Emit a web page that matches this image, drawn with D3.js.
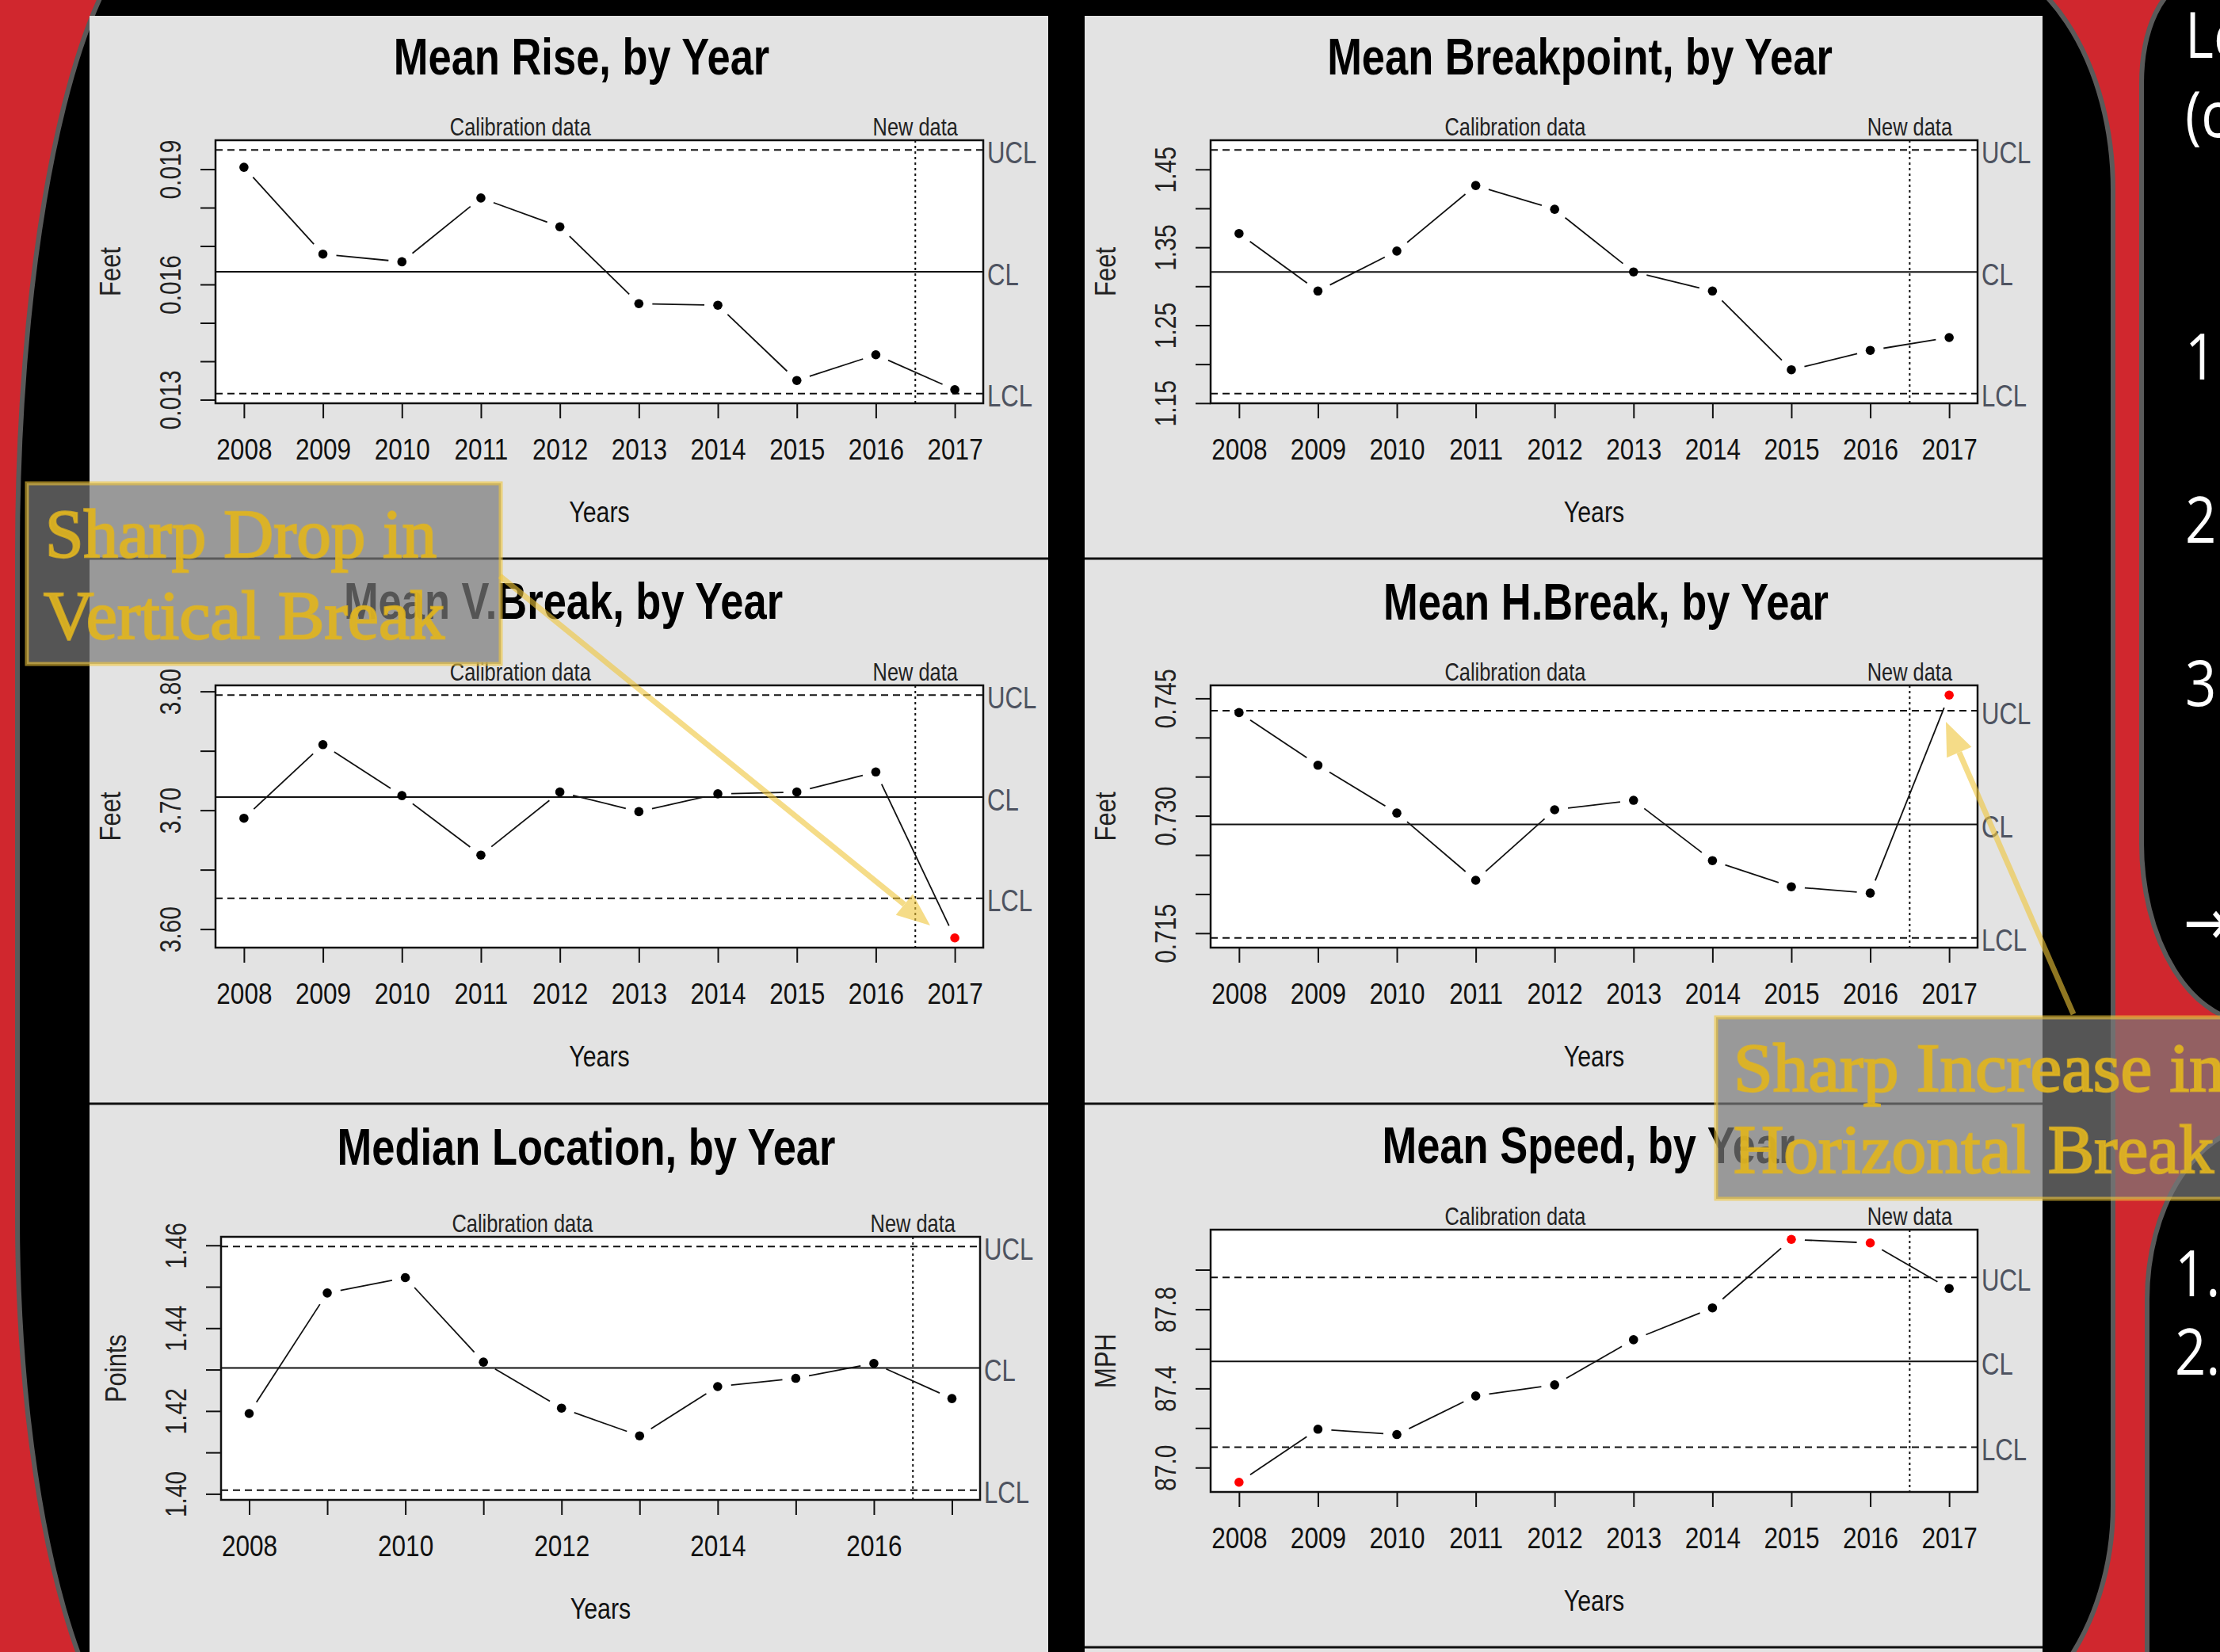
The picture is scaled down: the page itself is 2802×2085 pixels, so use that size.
<!DOCTYPE html>
<html>
<head>
<meta charset="utf-8">
<script src="https://cdn.jsdelivr.net/npm/d3@7"></script>
<style>
  body { margin: 0; background: #000; overflow: hidden; }
  svg { display: block; }
</style>
</head>
<body>
<script>
// ---- data ----
const years = [2008, 2009, 2010, 2011, 2012, 2013, 2014, 2015, 2016, 2017];
const yearLabels = ["2008", "2009", "2010", "2011", "2012", "2013", "2014", "2015", "2016", "2017"];
const yearLabelsSparse = ["2008", "", "2010", "", "2012", "", "2014", "", "2016", ""];
const phaseLabelYears = [2011.5, 2016.5];
const phaseLabels = ["Calibration data", "New data"];
const limitLabels = ["LCL", "CL", "UCL"];

const riseValues = [0.01905, 0.01679, 0.01659, 0.01825, 0.0175, 0.0155, 0.01546, 0.0135, 0.01417, 0.01326];
const riseLimits = [0.01316, 0.01633, 0.0195];
const riseTicks = [0.013, 0.014, 0.015, 0.016, 0.017, 0.018, 0.019];
const riseTickLabels = ["0.013", "", "", "0.016", "", "", "0.019"];

const breakpointValues = [1.3677, 1.2939, 1.3452, 1.4293, 1.3988, 1.3184, 1.2939, 1.1928, 1.2177, 1.2342];
const breakpointLimits = [1.1623, 1.3184, 1.4749];
const breakpointTicks = [1.15, 1.2, 1.25, 1.3, 1.35, 1.4, 1.45];
const breakpointTickLabels = ["1.15", "", "1.25", "", "1.35", "", "1.45"];

const vBreakValues = [3.6933, 3.7552, 3.7123, 3.6623, 3.7153, 3.6988, 3.7138, 3.7153, 3.7322, 3.5926];
const vBreakLimits = [3.626, 3.711, 3.7969];
const vBreakTicks = [3.6, 3.65, 3.7, 3.75, 3.8];
const vBreakTickLabels = ["3.60", "", "3.70", "", "3.80"];

const hBreakValues = [0.74318, 0.73646, 0.73035, 0.72176, 0.73077, 0.73198, 0.72427, 0.72093, 0.72013, 0.74542];
const hBreakLimits = [0.7144, 0.7289, 0.74341];
const hBreakTicks = [0.715, 0.72, 0.725, 0.73, 0.735, 0.74, 0.745];
const hBreakTickLabels = ["0.715", "", "", "0.730", "", "", "0.745"];

const locationValues = [1.4194, 1.4485, 1.4522, 1.4318, 1.4207, 1.414, 1.4259, 1.4279, 1.4315, 1.423];
const locationLimits = [1.4009, 1.4304, 1.4597];
const locationTicks = [1.4, 1.41, 1.42, 1.43, 1.44, 1.45, 1.46];
const locationTickLabels = ["1.40", "", "1.42", "", "1.44", "", "1.46"];

const speedValues = [86.926, 87.194, 87.167, 87.362, 87.418, 87.646, 87.807, 88.153, 88.135, 87.905];
const speedLimits = [87.103, 87.536, 87.961];
const speedTicks = [87.0, 87.2, 87.4, 87.6, 87.8, 88.0];
const speedTickLabels = ["87.0", "", "87.4", "", "87.8", ""];

const panels = [
  { title: "Mean Rise, by Year", yLabel: "Feet", values: riseValues, limits: riseLimits, ticks: riseTicks, tickLabels: riseTickLabels, xLabels: yearLabels },
  { title: "Mean Breakpoint, by Year", yLabel: "Feet", values: breakpointValues, limits: breakpointLimits, ticks: breakpointTicks, tickLabels: breakpointTickLabels, xLabels: yearLabels },
  { title: "Mean V.Break, by Year", yLabel: "Feet", values: vBreakValues, limits: vBreakLimits, ticks: vBreakTicks, tickLabels: vBreakTickLabels, xLabels: yearLabels },
  { title: "Mean H.Break, by Year", yLabel: "Feet", values: hBreakValues, limits: hBreakLimits, ticks: hBreakTicks, tickLabels: hBreakTickLabels, xLabels: yearLabels },
  { title: "Median Location, by Year", yLabel: "Points", values: locationValues, limits: locationLimits, ticks: locationTicks, tickLabels: locationTickLabels, xLabels: yearLabelsSparse },
  { title: "Mean Speed, by Year", yLabel: "MPH", values: speedValues, limits: speedLimits, ticks: speedTicks, tickLabels: speedTickLabels, xLabels: yearLabels }
];

// ---- layout ----
const W = 2802, H = 2085;
const SANS = "'Liberation Sans', Arial, sans-serif";
const SERIF = "'Liberation Serif', 'Times New Roman', serif";
const NARROW = 0.82;  // squeeze Liberation Sans to look like Arial Narrow
const RED = "#d0272e", OUTLINE = "#5a5a5a", PANEL = "#e3e3e3";
const GOLD = "rgb(240,198,58)", GOLD_TEXT = "#e0b420";

// plot box [x0, y0, x1, y1] and title centre per panel
const layout = [
  { box: [272, 177, 1241, 509], titleX: 734, titleY: 94 },
  { box: [1528, 177, 2496, 509], titleX: 1994, titleY: 94 },
  { box: [272, 865, 1241, 1196], titleX: 711, titleY: 781 },
  { box: [1528, 865, 2496, 1196], titleX: 2027, titleY: 782 },
  { box: [279, 1561, 1237, 1893], titleX: 740, titleY: 1470 },
  { box: [1528, 1552, 2496, 1883], titleX: 2005, titleY: 1468 }
];
const columns = [[113, 1323], [1369, 2578]];

const svg = d3.select("body").append("svg")
  .attr("width", W)
  .attr("height", H);

// text squeezed horizontally around its anchor point
function narrowText(sel, x, y, size) {
  return sel.append("text")
    .attr("transform", `translate(${x},${y}) scale(${NARROW},1)`)
    .attr("font-family", SANS)
    .attr("font-size", size);
}

// slide background: red with black rounded shapes
svg.append("rect").attr("width", W).attr("height", H).attr("fill", RED);

const shapes = [
  "M222,-100 L2467,-60 A200,300 0 0 1 2667,240 L2667,1900 A235,300 0 0 1 2432,2200 L222,2235 A200,700 0 0 1 22,1535 L22,700 A200,800 0 0 1 222,-100 Z",
  "M2763,-20 A60,126 0 0 0 2703,106 L2703,1064 A140,226 0 0 0 2843,1290 L2950,1290 L2950,-20 Z",
  "M2857,1420 A147,220 0 0 0 2710,1640 L2710,2200 L2950,2200 L2950,1420 Z"
];
svg.selectAll(".shape")
  .data(shapes)
  .join("path")
  .attr("class", "shape")
  .attr("d", d => d)
  .attr("fill", "#000")
  .attr("stroke", OUTLINE)
  .attr("stroke-width", 6);

// cut-off slide text on the right
const sideText = [
  ["Le", 2758, 73], ["(c", 2758, 173], ["1", 2758, 479], ["2", 2758, 685],
  ["3", 2758, 891], ["\u2192", 2756, 1192], ["1.", 2745, 1636], ["2.", 2745, 1735]
];
svg.selectAll(".side")
  .data(sideText)
  .join("text")
  .attr("class", "side")
  .attr("transform", d => `translate(${d[1]},${d[2]}) scale(0.86,1)`)
  .attr("fill", "#fff")
  .attr("font-family", "'Open Sans', 'DejaVu Sans', sans-serif")
  .attr("font-size", 80)
  .text(d => d[0]);

// panel columns
columns.forEach(([x0, x1]) => {
  svg.append("rect")
    .attr("x", x0).attr("y", 20)
    .attr("width", x1 - x0).attr("height", H - 20)
    .attr("fill", PANEL);
  [705, 1393].forEach(yy => {
    svg.append("line")
      .attr("x1", x0).attr("x2", x1)
      .attr("y1", yy).attr("y2", yy)
      .attr("stroke", "#111")
      .attr("stroke-width", 3);
  });
});
svg.append("line")
  .attr("x1", columns[1][0]).attr("x2", columns[1][1])
  .attr("y1", 2079).attr("y2", 2079)
  .attr("stroke", "#111").attr("stroke-width", 3);

// ---- one qcc-style chart ----
function drawPanel(p, lay) {
  const [x0, y0, x1, y1] = lay.box;
  const g = svg.append("g");

  const xPad = (years[years.length - 1] - years[0]) * 0.04;
  const x = d3.scaleLinear()
    .domain([years[0] - xPad, years[years.length - 1] + xPad])
    .range([x0, x1]);

  const ext = d3.extent(p.values.concat([p.limits[0], p.limits[2]]));
  const yPad = (ext[1] - ext[0]) * 0.04;
  const y = d3.scaleLinear()
    .domain([ext[0] - yPad, ext[1] + yPad])
    .range([y1, y0]);

  // title
  narrowText(g, lay.titleX, lay.titleY, 64)
    .attr("text-anchor", "middle")
    .attr("font-weight", "bold")
    .attr("fill", "#000")
    .text(p.title);

  // plot area
  g.append("rect")
    .attr("x", x0).attr("y", y0)
    .attr("width", x1 - x0).attr("height", y1 - y0)
    .attr("fill", "#fff");

  // axes
  const yAxis = g.append("g")
    .attr("transform", `translate(${x0},0)`)
    .call(d3.axisLeft(y).tickValues(p.ticks).tickSize(19).tickSizeOuter(0)
      .tickFormat((d, i) => p.tickLabels[i]));
  yAxis.select(".domain").remove();
  yAxis.selectAll(".tick line").attr("stroke", "#111").attr("stroke-width", 2);
  yAxis.selectAll(".tick text")
    .attr("x", 0).attr("dy", "0.36em")
    .attr("text-anchor", "middle")
    .attr("transform", "translate(-57,0) rotate(-90) scale(1,1.2)")
    .attr("font-family", SANS)
    .attr("font-size", 30)
    .attr("fill", "#222");

  const xAxis = g.append("g")
    .attr("transform", `translate(0,${y1})`)
    .call(d3.axisBottom(x).tickValues(years).tickSize(19).tickSizeOuter(0)
      .tickFormat((d, i) => p.xLabels[i]));
  xAxis.select(".domain").remove();
  xAxis.selectAll(".tick line").attr("stroke", "#111").attr("stroke-width", 2);
  xAxis.selectAll(".tick text")
    .attr("y", 0).attr("dy", "0.36em")
    .attr("transform", `translate(0,58) scale(${NARROW * 1.04},1)`)
    .attr("font-family", SANS)
    .attr("font-size", 37)
    .attr("fill", "#111");

  narrowText(g, (x0 + x1) / 2, y1 + 137, 37)
    .attr("dy", "0.36em")
    .attr("text-anchor", "middle")
    .attr("fill", "#111")
    .text("Years");

  g.append("text")
    .attr("transform", `translate(${x0 - 133},${(y0 + y1) / 2}) rotate(-90) scale(1,1.2)`)
    .attr("dy", "0.36em")
    .attr("text-anchor", "middle")
    .attr("font-family", SANS)
    .attr("font-size", 31)
    .attr("fill", "#222")
    .text(p.yLabel);

  // control limits
  const dashes = ["9,6", null, "9,6"];
  p.limits.forEach((v, i) => {
    g.append("line")
      .attr("x1", x0).attr("x2", x1)
      .attr("y1", y(v)).attr("y2", y(v))
      .attr("stroke", "#111")
      .attr("stroke-width", 2)
      .attr("stroke-dasharray", dashes[i]);
    narrowText(g, x1 + 5, y(v) + 3, 38)
      .attr("dy", "0.36em")
      .attr("fill", "#4e5360")
      .text(limitLabels[i]);
  });

  // calibration / new data split
  g.append("line")
    .attr("x1", x(phaseLabelYears[1])).attr("x2", x(phaseLabelYears[1]))
    .attr("y1", y0).attr("y2", y1)
    .attr("stroke", "#111")
    .attr("stroke-width", 2)
    .attr("stroke-dasharray", "3,4");
  phaseLabels.forEach((t, i) => {
    narrowText(g, x(phaseLabelYears[i]), y0 - 6, 31)
      .attr("text-anchor", "middle")
      .attr("fill", "#222")
      .text(t);
  });

  // box border
  g.append("rect")
    .attr("x", x0).attr("y", y0)
    .attr("width", x1 - x0).attr("height", y1 - y0)
    .attr("fill", "none")
    .attr("stroke", "#111")
    .attr("stroke-width", 2.5);

  // type = "b": segments with gaps around points
  const pts = years.map((yr, i) => [x(yr), y(p.values[i])]);
  const gap = 17;
  const segs = d3.pairs(pts).map(([a, b]) => {
    const dx = b[0] - a[0], dy = b[1] - a[1], len = Math.hypot(dx, dy);
    return [[a[0] + dx / len * gap, a[1] + dy / len * gap], [b[0] - dx / len * gap, b[1] - dy / len * gap]];
  });
  g.selectAll(".seg")
    .data(segs)
    .join("path")
    .attr("class", "seg")
    .attr("d", d3.line())
    .attr("stroke", "#111")
    .attr("stroke-width", 1.8)
    .attr("fill", "none");

  g.selectAll(".pt")
    .data(p.values)
    .join("circle")
    .attr("class", "pt")
    .attr("cx", (d, i) => x(years[i]))
    .attr("cy", d => y(d))
    .attr("r", 5.8)
    .attr("fill", d => (d > p.limits[2] || d < p.limits[0]) ? "#ff0000" : "#000");
}

panels.forEach((p, i) => drawPanel(p, layout[i]));

// ---- callout boxes and arrows ----
function callout(x, y, w, h, lines) {
  const g = svg.append("g");
  g.append("rect")
    .attr("x", x).attr("y", y)
    .attr("width", w).attr("height", h)
    .attr("fill", "rgb(121,121,121)")
    .attr("fill-opacity", 0.7)
    .attr("stroke", GOLD)
    .attr("stroke-opacity", 0.6)
    .attr("stroke-width", 5);
  lines.forEach(l => {
    g.append("text")
      .attr("x", l.x).attr("y", l.y)
      .attr("font-family", SERIF)
      .attr("font-size", 86)
      .attr("fill", GOLD_TEXT)
      .attr("fill-opacity", 0.92)
      .attr("stroke", GOLD_TEXT)
      .attr("stroke-opacity", 0.8)
      .attr("stroke-width", 2.4)
      .attr("textLength", l.len)
      .attr("lengthAdjust", "spacingAndGlyphs")
      .text(l.text);
  });
}

function arrow(xa, ya, xb, yb) {
  const dx = xb - xa, dy = yb - ya, len = Math.hypot(dx, dy);
  const ux = dx / len, uy = dy / len, hl = 42, hw = 17;
  const bx = xb - ux * hl, by = yb - uy * hl;
  const g = svg.append("g").attr("opacity", 0.6);
  g.append("line")
    .attr("x1", xa).attr("y1", ya)
    .attr("x2", bx).attr("y2", by)
    .attr("stroke", GOLD)
    .attr("stroke-width", 7);
  g.append("path")
    .attr("d", `M${xb},${yb}L${bx - uy * hw},${by + ux * hw}L${bx + uy * hw},${by - ux * hw}Z`)
    .attr("fill", GOLD);
}

callout(34, 610, 598, 228, [
  { text: "Sharp Drop in", x: 57, y: 703, len: 494 },
  { text: "Vertical Break", x: 55, y: 806, len: 506 }
]);
callout(2166, 1284, 660, 229, [
  { text: "Sharp Increase in", x: 2188, y: 1377, len: 620 },
  { text: "Horizontal Break", x: 2188, y: 1480, len: 606 }
]);

arrow(631, 727, 1174, 1168);
arrow(2617, 1280, 2456, 911);
</script>
</body>
</html>
